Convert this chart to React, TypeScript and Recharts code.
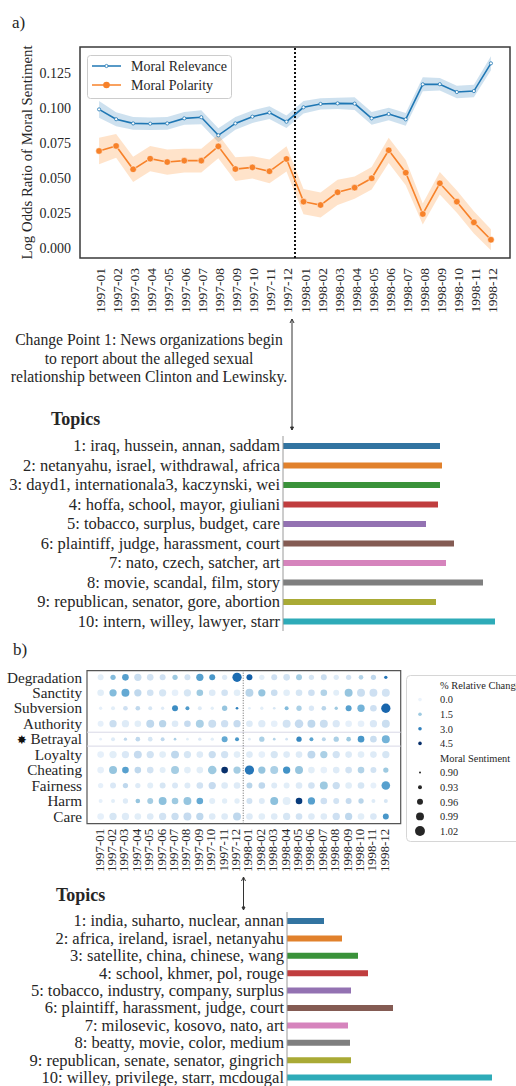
import React from 'react'
import {
  Area, Bar, BarChart, Cell, ComposedChart, Legend, Line, ReferenceArea, ReferenceLine,
  Scatter, ScatterChart, XAxis, YAxis,
} from 'recharts'

const SERIF = "'Liberation Serif', 'Times New Roman', serif"
const INK = '#262626'
const BLUE = '#1f77b4'
const ORANGE = '#f7822a'

// ---- a) moral sentiment over time
const months = [
  '1997-01', '1997-02', '1997-03', '1997-04', '1997-05', '1997-06', '1997-07', '1997-08',
  '1997-09', '1997-10', '1997-11', '1997-12', '1998-01', '1998-02', '1998-03', '1998-04',
  '1998-05', '1998-06', '1998-07', '1998-08', '1998-09', '1998-10', '1998-11', '1998-12',
]
const relevance = [
  0.099, 0.092, 0.089, 0.0888, 0.089, 0.0926, 0.0934, 0.0805, 0.089, 0.0938, 0.0967, 0.0902,
  0.1005, 0.1029, 0.1033, 0.1031, 0.0926, 0.0957, 0.0919, 0.1169, 0.117, 0.1114, 0.1121, 0.1319,
]
const relevanceErr = [
  0.006, 0.005, 0.0045, 0.0045, 0.0045, 0.0045, 0.005, 0.005, 0.0045, 0.0045, 0.0045, 0.0045,
  0.0045, 0.004, 0.004, 0.0045, 0.0045, 0.0045, 0.0045, 0.005, 0.0045, 0.0045, 0.0045, 0.005,
]
const polarity = [
  0.0693, 0.0729, 0.0562, 0.0638, 0.0614, 0.0624, 0.0624, 0.0726, 0.0564, 0.0576, 0.0548, 0.0636,
  0.0331, 0.0307, 0.0398, 0.0431, 0.0498, 0.0698, 0.0538, 0.0243, 0.0462, 0.0331, 0.0183, 0.0059,
]
const polarityErr = [
  0.0095, 0.0085, 0.009, 0.009, 0.009, 0.0085, 0.0085, 0.0085, 0.0085, 0.008, 0.0085, 0.009,
  0.009, 0.009, 0.009, 0.008, 0.008, 0.009, 0.009, 0.0075, 0.008, 0.008, 0.008, 0.0075,
]
const sentimentTicks = [0, 0.025, 0.05, 0.075, 0.1, 0.125]
const changePointA = 11.5

const topicsA = [
  '1: iraq, hussein, annan, saddam',
  '2: netanyahu, israel, withdrawal, africa',
  '3: dayd1, internationala3, kaczynski, wei',
  '4: hoffa, school, mayor, giuliani',
  '5: tobacco, surplus, budget, care',
  '6: plaintiff, judge, harassment, court',
  '7: nato, czech, satcher, art',
  '8: movie, scandal, film, story',
  '9: republican, senator, gore, abortion',
  '10: intern, willey, lawyer, starr',
]
const weightsA = [157, 159, 157, 155, 143, 171, 163, 200, 153, 212]

// ---- b) moral foundations bubble grid (s = moral sentiment, c = % relative change)
const foundations = ['Care', 'Harm', 'Fairness', 'Cheating', 'Loyalty', 'Betrayal', 'Authority', 'Subversion', 'Sanctity', 'Degradation']

const careS = [0.97, 0.98, 0.98, 0.97, 0.97, 0.98, 0.98, 0.99, 0.98, 0.97, 0.97, 0.99, 0.97, 0.97, 0.97, 0.98, 0.97, 0.97, 0.97, 0.98, 0.98, 0.97, 0.97, 0.96]
const careC = [0.1, 0.5, 0.3, 0.2, 0.3, 0.6, 0.8, 0.9, 1.0, 0.3, 0.3, 1.0, 0.3, 0.2, 0.3, 0.5, 0.6, 0.3, 0.3, 0.7, 1.0, 0.2, 0.4, 2.6]
const harmS = [0.93, 0.93, 0.95, 0.94, 0.96, 0.99, 0.97, 0.99, 0.97, 0.96, 0.95, 0.95, 0.96, 0.96, 0.99, 0.99, 0.97, 0.98, 0.97, 0.96, 0.96, 0.95, 0.93, 0.93]
const harmC = [0.1, 0.2, 0.3, 1.6, 1.4, 1.7, 1.5, 1.6, 2.2, 0.2, 0.2, 0.2, 0.6, 0.3, 1.7, 0.2, 4.3, 2.4, 0.7, 0.6, 0.9, 1.1, 0.3, 0.5]
const fairnessS = [0.95, 0.96, 0.95, 0.95, 0.96, 0.96, 0.96, 0.96, 0.97, 0.98, 0.97, 0.97, 0.96, 0.97, 0.96, 0.96, 0.97, 0.97, 0.99, 0.98, 0.97, 0.97, 0.96, 1.0]
const fairnessC = [0.1, 0.4, 1.0, 0.3, 0.2, 0.5, 0.4, 0.3, 0.6, 0.9, 0.3, 0.3, 1.1, 1.0, 0.3, 0.2, 0.3, 0.6, 1.5, 0.8, 0.2, 0.5, 0.1, 2.4]
const cheatingS = [0.97, 0.99, 0.97, 0.97, 0.97, 0.96, 0.99, 0.97, 0.97, 1.0, 0.97, 0.98, 1.01, 0.98, 0.99, 0.98, 0.99, 0.97, 0.97, 0.97, 0.97, 0.97, 0.96, 0.95]
const cheatingC = [0.1, 1.6, 2.4, 1.0, 0.6, 0.2, 1.4, 0.2, 0.2, 1.5, 4.5, 1.4, 3.2, 1.6, 1.3, 2.7, 1.6, 0.2, 0.1, 0.3, 0.6, 1.2, 0.6, 1.5]
const loyaltyS = [0.97, 0.98, 0.98, 0.99, 0.98, 0.97, 0.99, 0.98, 0.97, 0.98, 0.98, 0.97, 0.97, 0.97, 0.98, 0.97, 0.97, 0.99, 0.98, 0.98, 0.97, 0.97, 0.97, 0.98]
const loyaltyC = [0.1, 0.2, 0.4, 0.9, 0.6, 0.2, 1.0, 0.5, 0.3, 0.8, 0.6, 0.2, 0.3, 0.1, 0.5, 0.3, 0.3, 1.0, 1.3, 0.6, 0.3, 0.2, 0.3, 0.5]
const betrayalS = [0.91, 0.93, 0.92, 0.94, 0.94, 0.93, 0.91, 0.91, 0.92, 0.92, 0.96, 0.93, 0.91, 0.95, 0.91, 0.91, 0.95, 0.93, 0.93, 0.95, 0.94, 0.97, 0.97, 0.99]
const betrayalC = [0.1, 0.3, 1.0, 1.0, 0.5, 1.0, 1.3, 0.2, 0.4, 0.2, 2.2, 2.6, 0.3, 1.3, 1.2, 0.6, 2.9, 2.3, 1.1, 1.3, 1.5, 2.6, 0.8, 2.0]
const authorityS = [0.96, 0.98, 0.98, 0.97, 0.99, 0.98, 0.97, 0.97, 0.99, 0.99, 0.98, 0.98, 0.97, 0.98, 0.97, 0.99, 1.0, 0.99, 0.99, 0.98, 0.97, 0.97, 0.98, 0.99]
const authorityC = [0.1, 0.8, 0.3, 0.2, 1.0, 1.1, 0.3, 0.9, 1.3, 0.8, 0.7, 0.9, 0.3, 0.3, 0.1, 0.6, 0.9, 1.0, 0.8, 0.4, 0.1, 0.1, 0.4, 0.8]
const subversionS = [0.92, 0.93, 0.94, 0.94, 0.93, 0.92, 0.96, 0.93, 0.93, 0.92, 0.95, 0.91, 0.91, 0.92, 0.91, 0.93, 0.95, 0.95, 0.94, 0.92, 0.96, 0.98, 0.97, 1.01]
const subversionC = [0.1, 0.2, 0.7, 1.0, 0.5, 0.3, 2.8, 2.5, 0.3, 0.2, 1.6, 3.0, 0.2, 0.2, 0.5, 1.8, 1.3, 0.4, 1.1, 1.5, 2.4, 2.0, 0.7, 3.5]
const sanctityS = [0.97, 0.98, 0.99, 0.98, 0.97, 0.98, 0.97, 0.98, 0.97, 0.97, 0.97, 0.97, 0.99, 0.98, 0.97, 0.97, 0.97, 0.97, 0.97, 0.96, 0.99, 0.99, 0.99, 0.99]
const sanctityC = [0.2, 1.8, 2.2, 1.0, 0.6, 0.5, 0.1, 0.5, 1.5, 0.3, 0.6, 0.2, 1.1, 1.6, 0.8, 0.2, 0.5, 0.7, 1.2, 0.2, 1.6, 0.8, 0.7, 0.6]
const degradationS = [0.96, 0.95, 0.97, 0.98, 0.97, 0.96, 0.95, 0.96, 0.98, 0.96, 0.95, 1.01, 0.96, 0.95, 0.96, 0.97, 0.96, 0.95, 0.96, 0.95, 0.95, 0.94, 0.95, 0.92]
const degradationC = [0.2, 1.8, 2.4, 0.8, 0.6, 0.7, 1.5, 0.6, 2.4, 2.6, 0.3, 3.4, 3.6, 0.2, 0.7, 0.6, 1.4, 0.5, 0.8, 0.3, 0.6, 1.2, 1.0, 3.2]

const changeLegend = [0.0, 1.5, 3.0, 4.5]
const sentimentLegend = [0.9, 0.93, 0.96, 0.99, 1.02]

const topicsB = [
  '1: india, suharto, nuclear, annan',
  '2: africa, ireland, israel, netanyahu',
  '3: satellite, china, chinese, wang',
  '4: school, khmer, pol, rouge',
  '5: tobacco, industry, company, surplus',
  '6: plaintiff, harassment, judge, court',
  '7: milosevic, kosovo, nato, art',
  '8: beatty, movie, color, medium',
  '9: republican, senate, senator, gingrich',
  '10: willey, privilege, starr, mcdougal',
]
const weightsB = [37, 55, 71, 81, 64, 106, 61, 63, 64, 205]

const topicColors = ['#3274a1', '#e1812c', '#3a923a', '#c03d3e', '#9372b2', '#845b53', '#d684bd', '#7f7f7f', '#a9aa35', '#2eabb8']

// ---- derived tables
const lineData = months.map((m, i) => ({
  i,
  month: m,
  relevance: relevance[i],
  polarity: polarity[i],
  relBand: [relevance[i] - relevanceErr[i], relevance[i] + relevanceErr[i]],
  polBand: [polarity[i] - polarityErr[i], polarity[i] + polarityErr[i]],
}))

const gridRows = [
  [careS, careC], [harmS, harmC], [fairnessS, fairnessC], [cheatingS, cheatingC], [loyaltyS, loyaltyC],
  [betrayalS, betrayalC], [authorityS, authorityC], [subversionS, subversionC], [sanctityS, sanctityC],
  [degradationS, degradationC],
]
const cells = gridRows.flatMap(([s, c], y) => months.map((_, x) => ({ x, y, s: s[x], c: c[x] })))

const BLUES = ['#f7fbff', '#deebf7', '#c6dbef', '#9ecae1', '#6baed6', '#4292c6', '#2171b5', '#08519c', '#08306b']
function blues(v: number) {
  const t = Math.max(0, Math.min(1, (v + 0.3) / 4.8)) * (BLUES.length - 1)
  const k = Math.min(Math.floor(t), BLUES.length - 2)
  const f = t - k
  const a = BLUES[k], b = BLUES[k + 1]
  const ch = (h: string, o: number) => parseInt(h.slice(o, o + 2), 16)
  const mix = (o: number) => Math.round(ch(a, o) + (ch(b, o) - ch(a, o)) * f)
  return `rgb(${mix(1)},${mix(3)},${mix(5)})`
}
const bubbleR = (s: number) => 1 + (s - 0.9) * 33

const LX: [number, number] = [-1.12, 24.12]
const LY: [number, number] = [-0.00714, 0.14357]
const BX: [number, number] = [-1.1, 24.2]
const BY: [number, number] = [-0.47, 9.43]

function MonthTick({ x, y, payload, gap, size, shift }: any) {
  return (
    <text transform={`translate(${x + shift},${y + gap}) rotate(-90)`} textAnchor="end"
      fontSize={size} fontFamily={SERIF} fill={INK}>
      {months[payload.value]}
    </text>
  )
}

function ValueTick({ x, y, payload }: any) {
  return (
    <text x={x} y={y} dy="0.34em" textAnchor="end" fontSize={14} fontFamily={SERIF} fill={INK}>
      {Number(payload.value).toFixed(3)}
    </text>
  )
}

function SentimentLegend() {
  return (
    <svg width={146} height={45}>
      <rect x={0.5} y={0.5} width={144} height={43} rx={3} fill="#fff" fillOpacity={0.9} stroke="#cccccc" />
      <line x1={5} x2={34} y1={11} y2={11} stroke={BLUE} strokeWidth={1.5} />
      <circle cx={19.5} cy={11} r={1.6} fill="#fff" stroke={BLUE} strokeWidth={0.8} />
      <text x={44} y={15.5} fontSize={14} fontFamily={SERIF} fill={INK}>Moral Relevance</text>
      <line x1={5} x2={34} y1={30} y2={30} stroke={ORANGE} strokeWidth={1.5} />
      <circle cx={19.5} cy={30} r={3.3} fill={ORANGE} />
      <text x={44} y={34.5} fontSize={14} fontFamily={SERIF} fill={INK}>Moral Polarity</text>
    </svg>
  )
}

function SentimentChart() {
  return (
    <ComposedChart width={516} height={320} data={lineData} margin={{ top: 47, right: 6, bottom: 2, left: 0 }}>
      <XAxis type="number" dataKey="i" domain={LX} ticks={months.map((_, i) => i)} interval={0}
        allowDataOverflow axisLine={false} tickLine={false} tickSize={0} tickMargin={0} height={60}
        tick={(p: any) => <MonthTick {...p} gap={10} size={13.5} shift={6} />} />
      <YAxis type="number" domain={LY} ticks={sentimentTicks} allowDataOverflow width={80}
        axisLine={false} tickLine={false} tickSize={0} tickMargin={9}
        tick={(p: any) => <ValueTick {...p} />} />
      <Area dataKey="relBand" type="linear" stroke="none" fill={BLUE} fillOpacity={0.22} isAnimationActive={false} />
      <Area dataKey="polBand" type="linear" stroke="none" fill="#ff7f0e" fillOpacity={0.22} isAnimationActive={false} />
      <ReferenceLine x={changePointA} stroke="#111" strokeWidth={2} strokeDasharray="2 2" />
      <Line dataKey="relevance" type="linear" stroke={BLUE} strokeWidth={1.6}
        dot={{ r: 1.6, fill: '#fff', stroke: BLUE, strokeWidth: 0.8 }} isAnimationActive={false} />
      <Line dataKey="polarity" type="linear" stroke={ORANGE} strokeWidth={1.6}
        dot={{ r: 3.3, fill: ORANGE, stroke: '#fff', strokeWidth: 0.5 }} isAnimationActive={false} />
      <ReferenceArea x1={LX[0]} x2={LX[1]} y1={LY[0]} y2={LY[1]} fill="none" stroke="#3a3a3a" strokeWidth={1.5} />
      <Legend layout="vertical" align="center" verticalAlign="middle" width={146} height={45}
        wrapperStyle={{ left: 87, top: 55, width: 146, height: 45 }} content={() => <SentimentLegend />} />
    </ComposedChart>
  )
}

function TopicTick({ x, y, payload }: any) {
  return (
    <text x={x} y={y} dy="0.34em" textAnchor="end" fontSize={16.5} fontFamily={SERIF} fill={INK}>
      {payload.value}
    </text>
  )
}

function TopicBars({ topics, weights, axisX, maxValue, height }: any) {
  const data = topics.map((t: string, k: number) => ({ topic: t, weight: weights[k] }))
  return (
    <BarChart layout="vertical" width={516} height={height} data={data}
      margin={{ top: 8, right: 516 - axisX - maxValue, bottom: 0, left: 0 }}>
      <XAxis type="number" hide domain={[0, maxValue]} />
      <YAxis type="category" dataKey="topic" width={axisX} interval={0} tickLine={false} tickSize={0}
        tickMargin={3} axisLine={{ stroke: '#9a9a9a' }} tick={(p: any) => <TopicTick {...p} />} />
      <Bar dataKey="weight" barSize={6} isAnimationActive={false}>
        {data.map((_: any, k: number) => <Cell key={k} fill={topicColors[k]} />)}
      </Bar>
    </BarChart>
  )
}

function FoundationTick({ x, y, payload }: any) {
  const name = foundations[payload.value]
  return (
    <text x={x} y={y} dy="0.34em" textAnchor="end" fontSize={15.2} fontFamily={SERIF} fill={INK}>
      {name === 'Betrayal' ? <tspan fontFamily="'DejaVu Sans'" fontSize={12} fill="#111">✸</tspan> : null}
      {name === 'Betrayal' ? ' ' : null}
      {name}
    </text>
  )
}

function Bubble(p: any) {
  const d = p.payload
  return <circle cx={p.cx} cy={p.cy} r={bubbleR(d.s)} fill={blues(d.c)} />
}

function BubbleLegend() {
  const rowY = (k: number) => 10 + 14.6 * k
  const fs = 10.4
  return (
    <svg width={140} height={168} style={{ overflow: 'visible' }}>
      <rect x={0.5} y={0.5} width={150} height={166} rx={4} fill="#fff" stroke="#d6d6d6" />
      <text x={34} y={rowY(0) + 3.7} fontSize={fs} fontFamily={SERIF} fill={INK}>% Relative Change</text>
      {changeLegend.map((v, k) => (
        <g key={v}>
          <circle cx={14} cy={rowY(k + 1)} r={1.8} fill={blues(v)} />
          <text x={34} y={rowY(k + 1) + 3.7} fontSize={fs} fontFamily={SERIF} fill={INK}>{v.toFixed(1)}</text>
        </g>
      ))}
      <text x={34} y={rowY(5) + 3.7} fontSize={fs} fontFamily={SERIF} fill={INK}>Moral Sentiment</text>
      {sentimentLegend.map((v, k) => (
        <g key={v}>
          <circle cx={14} cy={rowY(k + 6)} r={bubbleR(v)} fill="#262626" />
          <text x={34} y={rowY(k + 6) + 3.7} fontSize={fs} fontFamily={SERIF} fill={INK}>{v.toFixed(2)}</text>
        </g>
      ))}
    </svg>
  )
}

function FoundationGrid() {
  return (
    <ScatterChart width={516} height={220} margin={{ top: 10.7, right: 115.3, bottom: 0, left: 0 }}>
      <XAxis type="number" dataKey="x" domain={BX} ticks={months.map((_, i) => i)} interval={0}
        allowDataOverflow axisLine={false} tickLine={false} tickSize={0} tickMargin={0} height={56.3}
        tick={(p: any) => <MonthTick {...p} gap={5} size={13} shift={3} />} />
      <YAxis type="number" dataKey="y" domain={BY} ticks={foundations.map((_, k) => k)} interval={0}
        allowDataOverflow width={87} axisLine={false} tickLine={false} tickSize={0} tickMargin={5}
        tick={(p: any) => <FoundationTick {...p} />} />
      <ReferenceLine y={5.45} stroke="#d8d8e6" strokeWidth={1} />
      <ReferenceLine y={4.55} stroke="#d8d8e6" strokeWidth={1} />
      <ReferenceLine x={changePointA} stroke="#666" strokeWidth={1} strokeDasharray="1 1.5" />
      <Scatter data={cells} shape={Bubble} isAnimationActive={false} />
      <ReferenceArea x1={BX[0]} x2={BX[1]} y1={BY[0]} y2={BY[1]} fill="none" stroke="#555" strokeWidth={1.2} />
      <Legend layout="vertical" align="center" verticalAlign="middle" width={140} height={168}
        wrapperStyle={{ left: 406, top: 15, width: 140, height: 168 }} content={() => <BubbleLegend />} />
    </ScatterChart>
  )
}

function Arrow({ x, y1, y2 }: { x: number; y1: number; y2: number }) {
  return (
    <g stroke="#333" strokeWidth={1} fill="#333">
      <line x1={x} x2={x} y1={y1} y2={y2} />
      <path d={`M${x - 2} ${y1 + 4} L${x} ${y1} L${x + 2} ${y1 + 4}`} fill="none" />
      <path d={`M${x - 1.5} ${y2 - 3} L${x} ${y2} L${x + 1.5} ${y2 - 3} Z`} />
    </g>
  )
}

export default function App() {
  const abs = (left: number, top: number): React.CSSProperties => ({ position: 'absolute', left, top })
  return (
    <div style={{ position: 'absolute', left: 0, top: 0, width: 516, height: 1086, overflow: 'hidden', background: '#fff', fontFamily: SERIF }}>
      <div style={abs(0, 0)}><SentimentChart /></div>
      <div style={abs(0, 428)}>
        <TopicBars topics={topicsA} weights={weightsA} axisX={283} maxValue={230} height={203} />
      </div>
      <div style={abs(0, 660)}><FoundationGrid /></div>
      <div style={abs(0, 904)}>
        <TopicBars topics={topicsB} weights={weightsB} axisX={287} maxValue={220} height={182} />
      </div>
      <svg width={516} height={1086} style={{ position: 'absolute', left: 0, top: 0, pointerEvents: 'none' }}>
        <g fontFamily={SERIF} fill={INK}>
          <text x={12} y={28} fontSize={17}>a)</text>
          <text transform="translate(32,152.5) rotate(-90)" textAnchor="middle" fontSize={14.8}>
            Log Odds Ratio of Moral Sentiment
          </text>
          <g fontSize={15.7} textAnchor="middle">
            <text x={149} y={345}>Change Point 1: News organizations begin</text>
            <text x={149} y={363.5}>to report about the alleged sexual</text>
            <text x={149} y={382}>relationship between Clinton and Lewinsky.</text>
          </g>
          <text x={51} y={425} fontSize={18} fontWeight="bold">Topics</text>
          <text x={13} y={655} fontSize={17}>b)</text>
          <text x={56} y={901} fontSize={18} fontWeight="bold">Topics</text>
        </g>
        <Arrow x={292} y1={319} y2={430} />
        <Arrow x={243.5} y1={877} y2={910} />
      </svg>
    </div>
  )
}
